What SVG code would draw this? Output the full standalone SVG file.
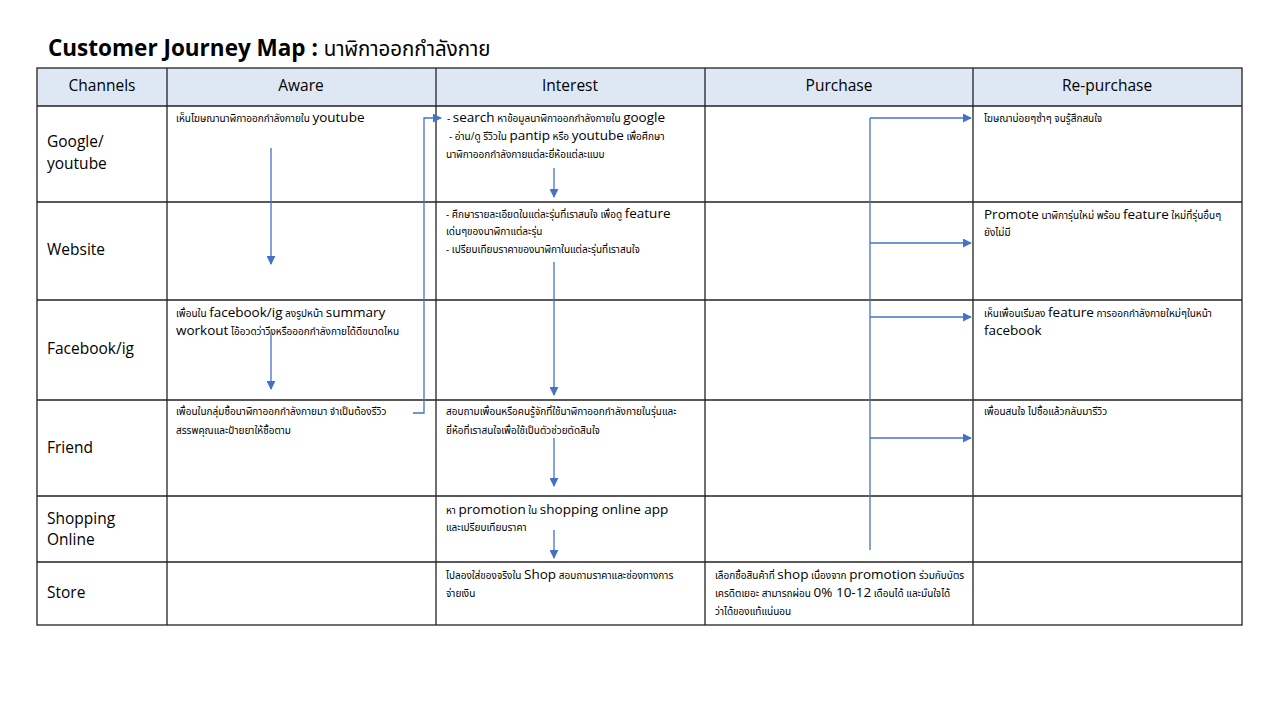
<svg xmlns="http://www.w3.org/2000/svg" width="1280" height="720" viewBox="0 0 1280 720">
<defs>
<style>
text{font-family:"Open Sans","Noto Sans","Noto Sans Thai","Liberation Sans",sans-serif;fill:#000}
.title{font-size:22.5px;font-weight:bold}
.tth{font-size:20.5px;font-weight:normal}
.hd{font-size:15.5px;text-anchor:middle}
.ch{font-size:15.5px}
.c{font-size:10px}
.e{font-size:13.5px}
.grid{stroke:#222;stroke-width:1.3;fill:none}
.conn{stroke:#4472C4;stroke-width:1.3;fill:none}
</style>
<marker id="ah" viewBox="0 0 10 10" refX="9" refY="5" markerWidth="9" markerHeight="9" markerUnits="userSpaceOnUse" orient="auto">
<path d="M0,0 L10,5 L0,10 z" fill="#4472C4"/>
</marker>
</defs>
<rect width="1280" height="720" fill="#fff"/>
<text x="48" y="56" class="title">Customer Journey Map : <tspan class="tth">นาฬิกาออกกำลังกาย</tspan></text>

<g id="table">
<rect x="37" y="68" width="1205" height="38" fill="#DEE8F5"/>
<rect x="37" y="68" width="1205" height="557" class="grid"/>
<line x1="37" y1="106" x2="1242" y2="106" class="grid"/>
<line x1="37" y1="202" x2="1242" y2="202" class="grid"/>
<line x1="37" y1="300" x2="1242" y2="300" class="grid"/>
<line x1="37" y1="400" x2="1242" y2="400" class="grid"/>
<line x1="37" y1="496" x2="1242" y2="496" class="grid"/>
<line x1="37" y1="562" x2="1242" y2="562" class="grid"/>
<line x1="167" y1="68" x2="167" y2="625" class="grid"/>
<line x1="436" y1="68" x2="436" y2="625" class="grid"/>
<line x1="705" y1="68" x2="705" y2="625" class="grid"/>
<line x1="973" y1="68" x2="973" y2="625" class="grid"/>
</g>

<g id="header">
<text x="102" y="91" class="hd">Channels</text>
<text x="301" y="91" class="hd">Aware</text>
<text x="570" y="91" class="hd">Interest</text>
<text x="839" y="91" class="hd">Purchase</text>
<text x="1107" y="91" class="hd">Re-purchase</text>
</g>

<g id="channels">
<text x="47" y="147" class="ch">Google/</text>
<text x="47" y="169" class="ch">youtube</text>
<text x="47" y="255" class="ch">Website</text>
<text x="47" y="354" class="ch">Facebook/ig</text>
<text x="47" y="453" class="ch">Friend</text>
<text x="47" y="524" class="ch">Shopping</text>
<text x="47" y="545" class="ch">Online</text>
<text x="47" y="598" class="ch">Store</text>
</g>

<g id="aware-google"><text x="176" y="122" class="c">เห็นโฆษณานาฬิกาออกกำลังกายใน <tspan class="e">youtube</tspan></text></g>
<g id="aware-facebook">
<text x="176" y="317" class="c">เพื่อนใน <tspan class="e">facebook/ig</tspan> ลงรูปหน้า <tspan class="e">summary</tspan></text>
<text x="176" y="335" class="c"><tspan class="e">workout</tspan> โอ้อวดว่าวิ่งหรือออกกำลังกายได้ดีขนาดไหน</text>
</g>
<g id="aware-friend">
<text x="176" y="415" class="c">เพื่อนในกลุ่มซื้อนาฬิกาออกกำลังกายมา จำเป็นต้องรีวิว</text>
<text x="176" y="434" class="c">สรรพคุณและป้ายยาให้ซื้อตาม</text>
</g>

<g id="interest-google">
<text x="447" y="122" class="c">- <tspan class="e">search</tspan> หาข้อมูลนาฬิกาออกกำลังกายใน <tspan class="e">google</tspan></text>
<text x="449" y="140" class="c">- อ่าน/ดู รีวิวใน <tspan class="e">pantip</tspan>  หรือ <tspan class="e">youtube</tspan> เพื่อศึกษา</text>
<text x="446" y="158" class="c">นาฬิกาออกกำลังกายแต่ละยี่ห้อแต่ละแบบ</text>
</g>
<g id="interest-website">
<text x="446" y="218" class="c">- ศึกษารายละเอียดในแต่ละรุ่นที่เราสนใจ เพื่อดู <tspan class="e">feature</tspan></text>
<text x="446" y="235" class="c">เด่นๆของนาฬิกาแต่ละรุ่น</text>
<text x="446" y="253" class="c">- เปรียบเทียบราคาของนาฬิกาในแต่ละรุ่นที่เราสนใจ</text>
</g>
<g id="interest-friend">
<text x="446" y="415" class="c">สอบถามเพื่อนหรือคนรู้จักที่ใช้นาฬิกาออกกำลังกายในรุ่นและ</text>
<text x="446" y="434" class="c">ยี่ห้อที่เราสนใจเพื่อใช้เป็นตัวช่วยตัดสินใจ</text>
</g>
<g id="interest-shopping">
<text x="446" y="514" class="c">หา <tspan class="e">promotion</tspan> ใน <tspan class="e">shopping online app</tspan></text>
<text x="446" y="531" class="c">และเปรียบเทียบราคา</text>
</g>
<g id="interest-store">
<text x="446" y="579" class="c">ไปลองใส่ของจริงใน <tspan class="e">Shop</tspan> สอบถามราคาและช่องทางการ</text>
<text x="446" y="597" class="c">จ่ายเงิน</text>
</g>
<g id="purchase-store">
<text x="715" y="579" class="c">เลือกซื้อสินค้าที่ <tspan class="e">shop</tspan> เนื่องจาก <tspan class="e">promotion</tspan> ร่วมกับบัตร</text>
<text x="715" y="597" class="c">เครดิตเยอะ สามารถผ่อน <tspan class="e">0% 10-12</tspan>  เดือนได้  และมั่นใจได้</text>
<text x="715" y="615" class="c">ว่าได้ของแท้แน่นอน</text>
</g>

<g id="repurchase-google"><text x="984" y="122" class="c">โฆษณาบ่อยๆซ้ำๆ จนรู้สึกสนใจ</text></g>
<g id="repurchase-website">
<text x="984" y="219" class="c"><tspan class="e">Promote</tspan> นาฬิการุ่นใหม่  พร้อม <tspan class="e">feature</tspan> ใหม่ที่รุ่นอื่นๆ</text>
<text x="984" y="236" class="c">ยังไม่มี</text>
</g>
<g id="repurchase-facebook">
<text x="984" y="317" class="c">เห็นเพื่อนเริ่มลง <tspan class="e">feature</tspan> การออกกำลังกายใหม่ๆในหน้า</text>
<text x="984" y="335" class="c"><tspan class="e">facebook</tspan></text>
</g>
<g id="repurchase-friend"><text x="984" y="415" class="c">เพื่อนสนใจ ไปซื้อแล้วกลับมารีวิว</text></g>

<g id="connectors">
<line x1="271" y1="148" x2="271" y2="264" class="conn" marker-end="url(#ah)"/>
<line x1="271" y1="332" x2="271" y2="389" class="conn" marker-end="url(#ah)"/>
<polyline points="413,413 424,413 424,118 441,118" class="conn" marker-end="url(#ah)"/>
<line x1="554" y1="168" x2="554" y2="197" class="conn" marker-end="url(#ah)"/>
<line x1="554" y1="262" x2="554" y2="395" class="conn" marker-end="url(#ah)"/>
<line x1="554" y1="438" x2="554" y2="486" class="conn" marker-end="url(#ah)"/>
<line x1="554" y1="530" x2="554" y2="558" class="conn" marker-end="url(#ah)"/>
<line x1="870" y1="118" x2="870" y2="550" class="conn"/>
<line x1="870" y1="118" x2="971" y2="118" class="conn" marker-end="url(#ah)"/>
<line x1="870" y1="243" x2="971" y2="243" class="conn" marker-end="url(#ah)"/>
<line x1="870" y1="317" x2="971" y2="317" class="conn" marker-end="url(#ah)"/>
<line x1="870" y1="438" x2="971" y2="438" class="conn" marker-end="url(#ah)"/>
</g>
</svg>
